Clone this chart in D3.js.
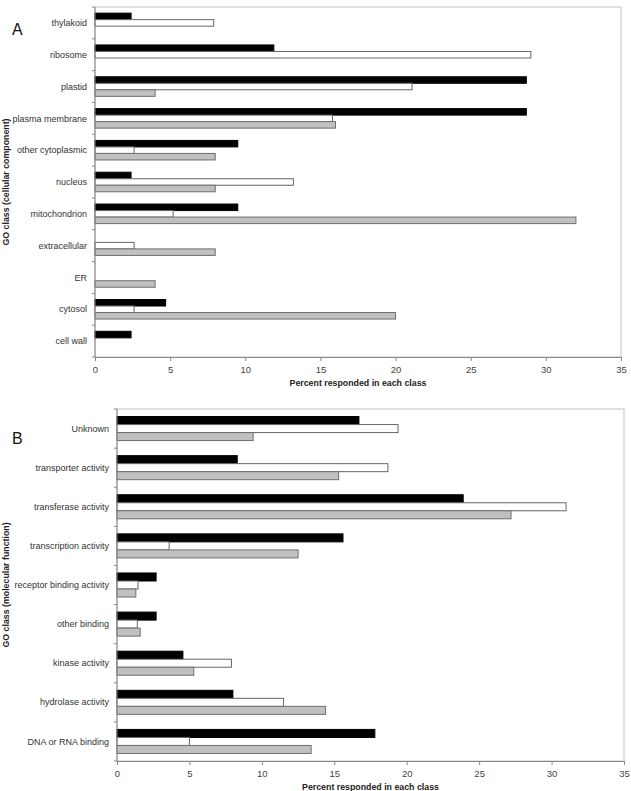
<!DOCTYPE html>
<html lang="en">
<head>
<meta charset="UTF-8">
<title>GO class response</title>
<script src="https://cdnjs.cloudflare.com/ajax/libs/d3/7.8.5/d3.min.js"></script>
<style>
    body { margin: 0; background: #fff; }
    svg { display: block; font-family: "Liberation Sans", Arial, sans-serif; }
</style>
</head>
<body>
<svg id="chart" width="631" height="791"></svg>
<script>
// Panel A - cellular component (top to bottom)
const compCategories = ["thylakoid", "ribosome", "plastid", "plasma membrane", "other cytoplasmic",
    "nucleus", "mitochondrion", "extracellular", "ER", "cytosol", "cell wall"];
const compBlack = [2.4, 11.9, 28.7, 28.7, 9.5, 2.4, 9.5, 0, 0, 4.7, 2.4];
const compWhite = [7.9, 29.0, 21.1, 15.8, 2.6, 13.2, 5.2, 2.6, 0, 2.6, 0];
const compGray  = [0, 0, 4.0, 16.0, 8.0, 8.0, 32.0, 8.0, 4.0, 20.0, 0];

// Panel B - molecular function (top to bottom)
const funcCategories = ["Unknown", "transporter activity", "transferase activity", "transcription activity",
    "receptor binding activity", "other binding", "kinase activity", "hydrolase activity", "DNA or RNA binding"];
const funcBlack = [16.7, 8.3, 23.9, 15.6, 2.7, 2.7, 4.55, 8.0, 17.8];
const funcWhite = [19.4, 18.7, 31.0, 3.6, 1.45, 1.4, 7.9, 11.5, 5.0];
const funcGray  = [9.4, 15.3, 27.2, 12.5, 1.3, 1.6, 5.3, 14.4, 13.4];

const xTicks = [0, 5, 10, 15, 20, 25, 30, 35];
const seriesKeys = ["black", "white", "gray"];

const svg = d3.select("#chart");

const barStyle = {
    black: { fill: "#000", stroke: "#000" },
    white: { fill: "#fff", stroke: "#666" },
    gray:  { fill: "#c0c0c0", stroke: "#6f6f6f" }
};

function drawPanel(opt) {
    const g = svg.append("g");
    const x = d3.scaleLinear().domain([0, 35]).range([opt.left, opt.right]);
    const y = d3.scaleBand().domain(opt.categories).range([opt.top, opt.bottom])
        .paddingInner(0.385).paddingOuter(0.1925);
    const ySub = d3.scaleBand().domain(seriesKeys).range([0, y.bandwidth()]);

    // plot frame (top/right light)
    g.append("rect")
        .attr("x", opt.left).attr("y", opt.top)
        .attr("width", opt.right - opt.left).attr("height", opt.bottom - opt.top)
        .attr("fill", "none").attr("stroke", "#c4c4c4").attr("stroke-width", 1);

    const rows = opt.categories.map((c, i) => ({
        cat: c,
        vals: { black: opt.black[i], white: opt.white[i], gray: opt.gray[i] }
    }));

    const groups = g.selectAll(".row").data(rows).enter().append("g")
        .attr("transform", d => `translate(0,${y(d.cat)})`);

    groups.selectAll("rect")
        .data(d => seriesKeys.map(k => ({ key: k, value: d.vals[k] })).filter(v => v.value > 0))
        .enter().append("rect")
        .attr("x", x(0))
        .attr("y", d => ySub(d.key))
        .attr("width", d => x(d.value) - x(0))
        .attr("height", ySub.bandwidth())
        .attr("fill", d => barStyle[d.key].fill)
        .attr("stroke", d => barStyle[d.key].stroke)
        .attr("stroke-width", 1);

    // x axis
    const xAxis = g.append("g")
        .attr("transform", `translate(0,${opt.bottom})`)
        .call(d3.axisBottom(x).tickValues(xTicks).tickSize(4).tickPadding(5));
    xAxis.select(".domain").attr("stroke", "#888");
    xAxis.selectAll(".tick line").attr("stroke", "#888");
    xAxis.selectAll("text").attr("fill", "#444").attr("font-size", "9.5px");

    // y axis: ticks on band boundaries, labels centered in bands
    const step = y.step();
    const bounds = d3.range(opt.categories.length + 1).map(i => opt.top + i * (opt.bottom - opt.top) / opt.categories.length);
    g.append("line")
        .attr("x1", opt.left).attr("x2", opt.left)
        .attr("y1", opt.top).attr("y2", opt.bottom)
        .attr("stroke", "#888");
    g.selectAll(".ytick").data(bounds).enter().append("line")
        .attr("x1", opt.left - 3).attr("x2", opt.left)
        .attr("y1", d => d).attr("y2", d => d)
        .attr("stroke", "#888");
    g.selectAll(".ylab").data(opt.categories).enter().append("text")
        .attr("x", opt.left - 8)
        .attr("y", d => y(d) + y.bandwidth() / 2)
        .attr("dy", "0.35em")
        .attr("text-anchor", "end")
        .attr("font-size", "9px")
        .attr("fill", "#333")
        .text(d => d);

    // axis titles
    g.append("text")
        .attr("x", (opt.left + opt.right) / 2)
        .attr("y", opt.bottom + 29)
        .attr("text-anchor", "middle")
        .attr("font-size", "8.8px")
        .attr("font-weight", "bold")
        .attr("fill", "#222")
        .text("Percent responded in each class");

    g.append("text")
        .attr("transform", `translate(9,${(opt.top + opt.bottom) / 2}) rotate(-90)`)
        .attr("text-anchor", "middle")
        .attr("font-size", "8.8px")
        .attr("font-weight", "bold")
        .attr("fill", "#222")
        .text(opt.yTitle);

    // panel letter
    g.append("text")
        .attr("x", 12)
        .attr("y", opt.letterY)
        .attr("font-size", "16px")
        .attr("fill", "#111")
        .text(opt.letter);
}

drawPanel({
    categories: compCategories, black: compBlack, white: compWhite, gray: compGray,
    left: 95, right: 621, top: 7, bottom: 357,
    yTitle: "GO class (cellular component)", letter: "A", letterY: 35
});

drawPanel({
    categories: funcCategories, black: funcBlack, white: funcWhite, gray: funcGray,
    left: 117, right: 624, top: 409, bottom: 761,
    yTitle: "GO class (molecular function)", letter: "B", letterY: 444
});
</script>
</body>
</html>
